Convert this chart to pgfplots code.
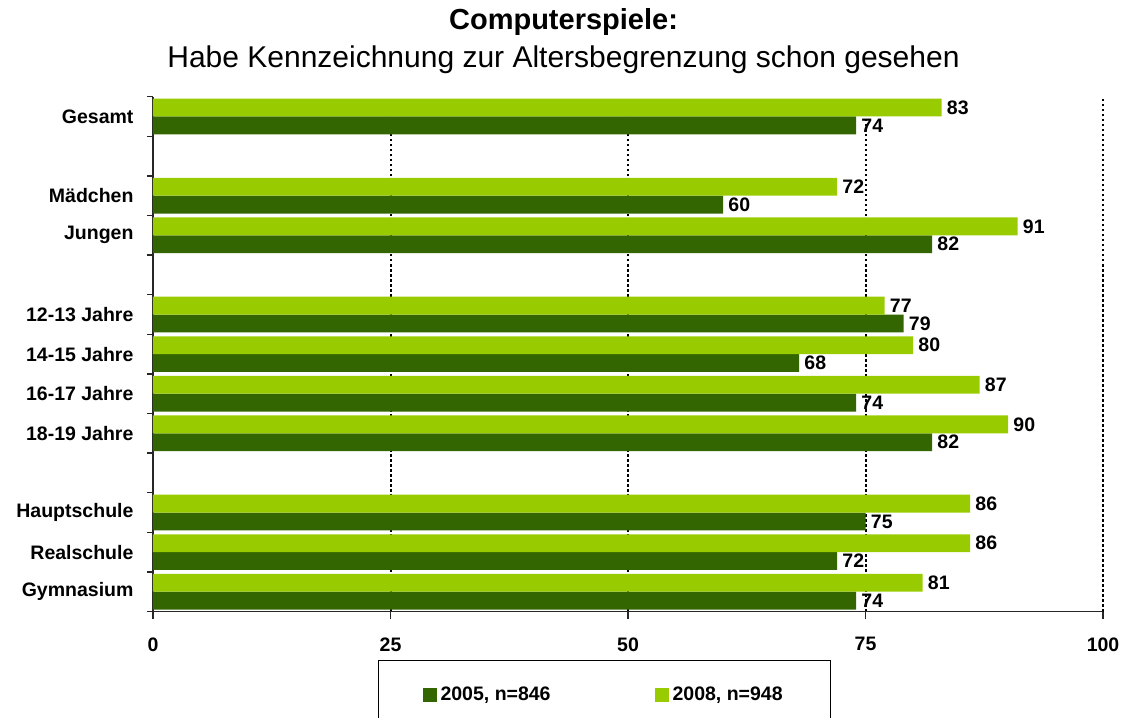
\documentclass[border=0pt]{standalone}
\usepackage{fontspec}
\setmainfont{Liberation Sans}
\usepackage{pgfplots}
\pgfplotsset{compat=1.18}
\usepackage{pgfplotstable}

\definecolor{dunkel}{HTML}{336600}
\definecolor{hell}{HTML}{99CC00}

% slot 12 = Gesamt (top) ... slot 0 = Gymnasium (bottom); 11, 8, 3 left empty
\pgfplotstableread{
pos val
12 74
10 60
9  82
7  79
6  68
5  74
4  82
2  75
1  72
0  74
}\jahrA

\pgfplotstableread{
pos val
12 83
10 72
9  91
7  77
6  80
5  87
4  90
2  86
1  86
0  81
}\jahrB

\newcommand{\lbl}{\fontsize{9.75}{11}\selectfont\bfseries}

\begin{document}
\begin{tikzpicture}
\begin{axis}[
    name=ax,
    scale only axis,
    width=475pt, height=257.4pt,
    xbar, bar width=0.45,
    xmin=0, xmax=100,
    ymin=-0.5, ymax=12.5,
    axis x line=bottom, axis y line=left,
    axis line style={-, black!85, line width=0.75pt},
    xtick={0,25,50,75,100},
    ytick={0,1,2,4,5,6,7,9,10,12},
    yticklabels={Gymnasium,Realschule,Hauptschule,18-19 Jahre,16-17 Jahre,14-15 Jahre,12-13 Jahre,Jungen,Mädchen,Gesamt},
    minor ytick={-0.5,0.5,...,12.5},
    tick align=outside,
    major tick length=3.5pt, minor tick length=3pt,
    every tick/.style={black!85, line width=0.75pt},
    major y tick style={draw=none},
    xmajorgrids,
    major grid style={black, line width=1pt, dash pattern=on 1.2pt off 1.3pt},
    /pgf/number format/assume math mode=true,
    tick label style={font=\lbl},
    yticklabel style={xshift=-2.75pt},
    xticklabel style={yshift=-6pt},
    nodes near coords,
    every node near coord/.append style={font=\lbl, black, inner sep=2.5pt},
    legend columns=2,
    legend image code/.code={\fill[#1] (0pt,-3.5pt) rectangle (7pt,3.5pt);},
    legend style={at={(0.2368,-0.0942)}, anchor=north west, draw=black,
        line width=0.6pt, font=\lbl, inner xsep=22pt, inner ysep=11pt,
        /tikz/every even column/.append style={column sep=50pt}},
]
\addplot[fill=dunkel, draw=none, bar shift=-0.225] table[x=val, y=pos] {\jahrA};
\addplot[fill=hell, draw=none, bar shift=0.225] table[x=val, y=pos] {\jahrB};
\legend{{2005, n=846},{2008, n=948}}
\end{axis}
\node[anchor=base, font=\fontsize{14.5}{16}\selectfont\bfseries]
    at ([shift={(205.25pt,33.35pt)}]ax.north west) {Computerspiele:};
\node[anchor=base, font=\fontsize{15}{17}\selectfont]
    at ([shift={(205.25pt,14.35pt)}]ax.north west) {Habe Kennzeichnung zur Altersbegrenzung schon gesehen};
\pgfresetboundingbox
\path[use as bounding box] ([shift={(-76.5pt,-52.75pt)}]ax.south west)
    rectangle ([shift={(12pt,48.35pt)}]ax.north east);
\end{tikzpicture}
\end{document}
